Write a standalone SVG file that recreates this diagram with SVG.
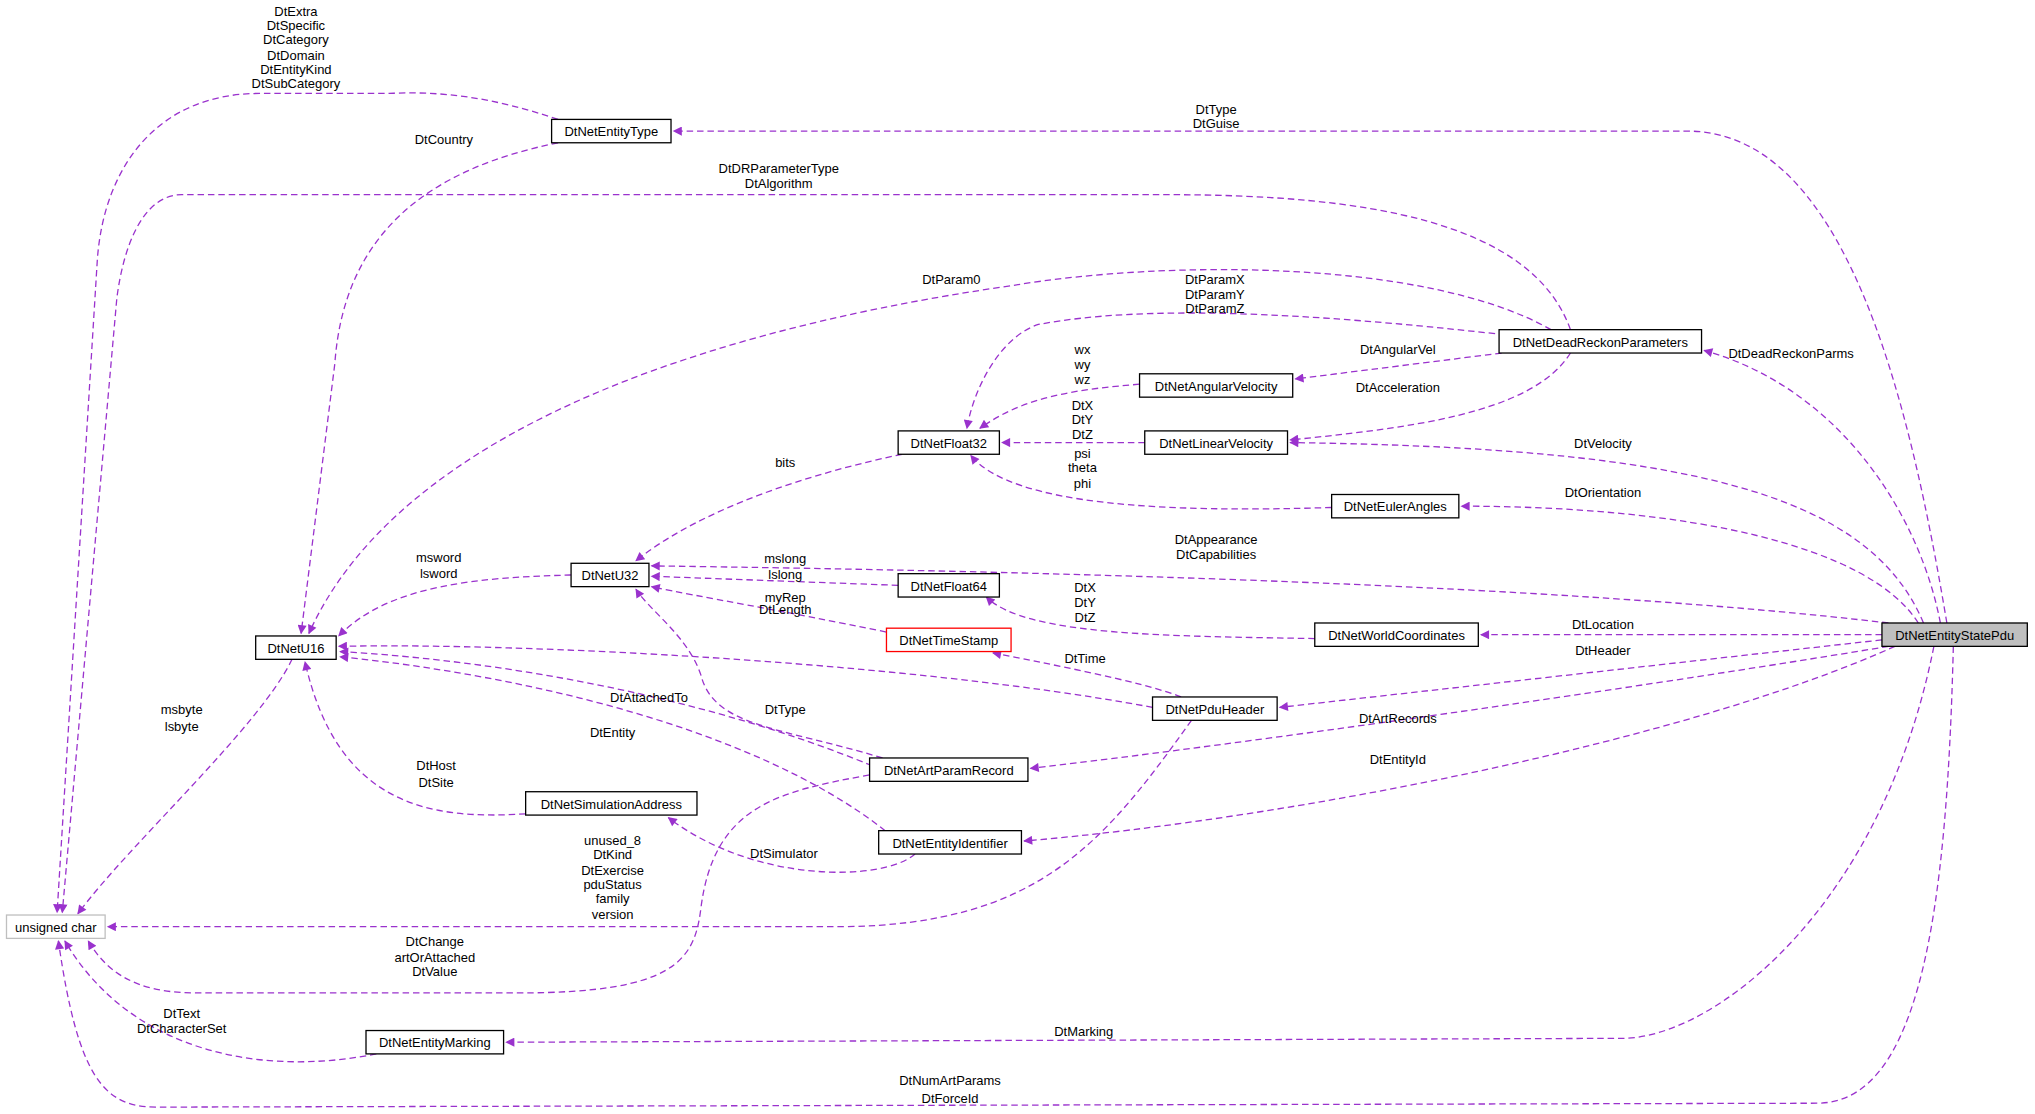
<svg xmlns="http://www.w3.org/2000/svg" width="2035" height="1114" viewBox="0 0 2035 1114">
<style>
text{font-family:"Liberation Sans",Arial,sans-serif;font-size:10px;fill:#000;text-anchor:middle}
.n rect{fill:#fff;stroke:#000;stroke-width:1}
.e path{fill:none;stroke:#9a32cd;stroke-width:1;stroke-dasharray:5,3;marker-end:url(#a)}
</style>
<defs><marker id="a" viewBox="0 0 10 10" refX="9" refY="5" markerWidth="9" markerHeight="7" orient="auto" markerUnits="userSpaceOnUse"><path d="M0,0L10,5L0,10z" fill="#9a32cd"/></marker></defs>
<rect width="2035" height="1114" fill="#fff"/>
<g transform="scale(1.2979)">
<g class="e">
<path d="M1500,480 C1470,300 1420,101 1300,101 L519,101"/>
<path d="M430,92 C380,75 340,70 300,72 L200,72 C120,72 80,130 75,200 L44,703"/>
<path d="M430,110 C330,130 265,180 258,280 L232,488"/>
<path d="M1210,254 C1180,170 1050,150 900,150 L140,150 C110,150 95,190 90,230 L48,703"/>
<path d="M1195,254 C1100,200 900,200 780,220 C500,260 300,350 238,488"/>
<path d="M1160,258 C1000,240 880,235 800,250 C770,260 750,300 745,330"/>
<path d="M1157,272 L998,292"/>
<path d="M1210,272 C1180,320 1080,330 994,339"/>
<path d="M878,296 C830,300 790,305 755,330"/>
<path d="M882,341 L772,341"/>
<path d="M1026,391 C900,395 780,390 748,351"/>
<path d="M695,350 C600,370 530,400 490,432"/>
<path d="M440,443 C370,445 300,450 261,490"/>
<path d="M692,451 L502,444"/>
<path d="M683,487 C600,470 540,460 502,452"/>
<path d="M888,545 C700,510 400,495 261,498"/>
<path d="M910,537 C880,525 800,510 765,503"/>
<path d="M918,555 C850,650 800,712 650,714 L83,714"/>
<path d="M680,584 C600,560 550,560 540,520 C530,490 500,470 490,454"/>
<path d="M672,590 C550,540 400,510 262,502"/>
<path d="M670,597 C600,610 550,620 540,700 C535,740 520,765 400,765 L150,765 C100,765 80,745 68,725"/>
<path d="M682,640 C580,560 400,520 262,506"/>
<path d="M705,658 C680,680 580,680 515,630"/>
<path d="M405,627 C330,632 260,620 235,510"/>
<path d="M225,508 C200,560 100,650 60,704"/>
<path d="M290,812 C200,830 100,810 50,725"/>
<path d="M1490,498 C1450,700 1320,800 1250,800 L390,803"/>
<path d="M1505,498 C1500,700 1480,850 1400,850 L120,853 C80,853 60,830 45,725"/>
<path d="M1495,480 C1480,400 1420,300 1313,270"/>
<path d="M1482,480 C1440,380 1300,345 994,341"/>
<path d="M1478,480 C1440,420 1300,390 1126,390"/>
<path d="M1455,480 C1200,450 800,440 502,436"/>
<path d="M1450,489 L1141,489"/>
<path d="M1450,493 L986,545"/>
<path d="M1455,498 C1200,540 900,580 794,592"/>
<path d="M1460,498 C1300,570 1000,630 789,648"/>
<path d="M1013,492 C900,490 790,490 760,460"/>
</g>
<g id="labels">
<text x="937" y="88">DtType</text><text x="937" y="99">DtGuise</text>
<text x="228" y="12">DtExtra</text><text x="228" y="23">DtSpecific</text><text x="228" y="34">DtCategory</text><text x="228" y="46">DtDomain</text><text x="228" y="57">DtEntityKind</text><text x="228" y="68">DtSubCategory</text>
<text x="342" y="111">DtCountry</text>
<text x="600" y="133">DtDRParameterType</text><text x="600" y="145">DtAlgorithm</text>
<text x="733" y="219">DtParam0</text>
<text x="936" y="219">DtParamX</text><text x="936" y="230">DtParamY</text><text x="936" y="241">DtParamZ</text>
<text x="1077" y="273">DtAngularVel</text>
<text x="1077" y="302">DtAcceleration</text>
<text x="834" y="273">wx</text><text x="834" y="284">wy</text><text x="834" y="296">wz</text>
<text x="834" y="316">DtX</text><text x="834" y="327">DtY</text><text x="834" y="338">DtZ</text>
<text x="834" y="353">psi</text><text x="834" y="364">theta</text><text x="834" y="376">phi</text>
<text x="605" y="360">bits</text>
<text x="338" y="433">msword</text><text x="338" y="445">lsword</text>
<text x="605" y="434">mslong</text><text x="605" y="446">lslong</text>
<text x="605" y="464">myRep</text>
<text x="605" y="473">DtLength</text>
<text x="836" y="511">DtTime</text>
<text x="472" y="651">unused_8</text><text x="472" y="662">DtKind</text><text x="472" y="674">DtExercise</text><text x="472" y="685">pduStatus</text><text x="472" y="696">family</text><text x="472" y="708">version</text>
<text x="605" y="550">DtType</text>
<text x="500" y="541">DtAttachedTo</text>
<text x="335" y="729">DtChange</text><text x="335" y="741">artOrAttached</text><text x="335" y="752">DtValue</text>
<text x="472" y="568">DtEntity</text>
<text x="604" y="661">DtSimulator</text>
<text x="336" y="593">DtHost</text><text x="336" y="606">DtSite</text>
<text x="140" y="550">msbyte</text><text x="140" y="563">lsbyte</text>
<text x="140" y="784">DtText</text><text x="140" y="796">DtCharacterSet</text>
<text x="835" y="798">DtMarking</text>
<text x="732" y="836">DtNumArtParams</text><text x="732" y="850">DtForceId</text>
<text x="1380" y="276">DtDeadReckonParms</text>
<text x="1235" y="345">DtVelocity</text>
<text x="1235" y="383">DtOrientation</text>
<text x="937" y="419">DtAppearance</text><text x="937" y="431">DtCapabilities</text>
<text x="1235" y="485">DtLocation</text>
<text x="1235" y="505">DtHeader</text>
<text x="1077" y="557">DtArtRecords</text>
<text x="1077" y="589">DtEntityId</text>
<text x="836" y="456">DtX</text><text x="836" y="468">DtY</text><text x="836" y="479">DtZ</text>
</g>
<g id="DtNetEntityStatePdu" class="n"><rect x="1450" y="480" width="112" height="18" style="fill:#bfbfbf"/><text x="1506" y="493">DtNetEntityStatePdu</text></g>
<g id="DtNetEntityType" class="n"><rect x="425" y="92" width="92" height="18"/><text x="471" y="105">DtNetEntityType</text></g>
<g id="DtNetDeadReckonParameters" class="n"><rect x="1155" y="254" width="156" height="18"/><text x="1233" y="267">DtNetDeadReckonParameters</text></g>
<g id="DtNetAngularVelocity" class="n"><rect x="878" y="288" width="118" height="18"/><text x="937" y="301">DtNetAngularVelocity</text></g>
<g id="DtNetLinearVelocity" class="n"><rect x="882" y="332" width="110" height="18"/><text x="937" y="345">DtNetLinearVelocity</text></g>
<g id="DtNetFloat32" class="n"><rect x="692" y="332" width="78" height="18"/><text x="731" y="345">DtNetFloat32</text></g>
<g id="DtNetEulerAngles" class="n"><rect x="1026" y="381" width="98" height="18"/><text x="1075" y="394">DtNetEulerAngles</text></g>
<g id="DtNetU32" class="n"><rect x="440" y="434" width="60" height="18"/><text x="470" y="447">DtNetU32</text></g>
<g id="DtNetFloat64" class="n"><rect x="692" y="442" width="78" height="18"/><text x="731" y="455">DtNetFloat64</text></g>
<g id="DtNetU16" class="n"><rect x="197" y="490" width="62" height="18"/><text x="228" y="503">DtNetU16</text></g>
<g id="DtNetTimeStamp" class="n"><rect x="683" y="484" width="96" height="18" style="stroke:#f00"/><text x="731" y="497">DtNetTimeStamp</text></g>
<g id="DtNetWorldCoordinates" class="n"><rect x="1013" y="480" width="126" height="18"/><text x="1076" y="493">DtNetWorldCoordinates</text></g>
<g id="DtNetPduHeader" class="n"><rect x="888" y="537" width="96" height="18"/><text x="936" y="550">DtNetPduHeader</text></g>
<g id="DtNetArtParamRecord" class="n"><rect x="670" y="584" width="122" height="18"/><text x="731" y="597">DtNetArtParamRecord</text></g>
<g id="DtNetSimulationAddress" class="n"><rect x="405" y="610" width="132" height="18"/><text x="471" y="623">DtNetSimulationAddress</text></g>
<g id="DtNetEntityIdentifier" class="n"><rect x="677" y="640" width="110" height="18"/><text x="732" y="653">DtNetEntityIdentifier</text></g>
<g id="unsigned_char" class="n"><rect x="5" y="705" width="76" height="18" style="stroke:#bfbfbf"/><text x="43" y="718">unsigned char</text></g>
<g id="DtNetEntityMarking" class="n"><rect x="282" y="794" width="106" height="18"/><text x="335" y="807">DtNetEntityMarking</text></g>
</g>
</svg>
